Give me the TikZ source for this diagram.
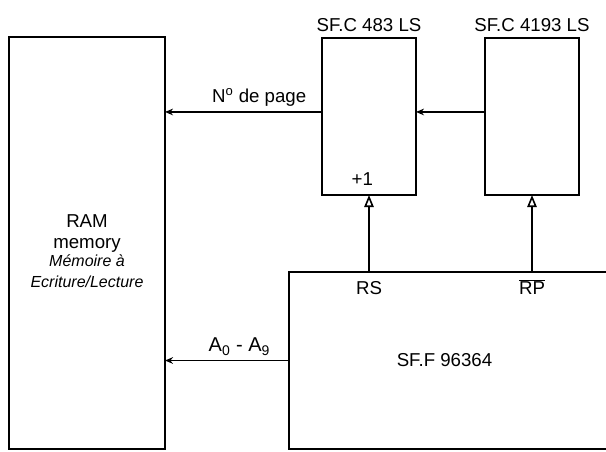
\documentclass[tikz,border=0pt]{standalone}
\usepackage{fontspec}
\setmainfont{Liberation Sans}
\usetikzlibrary{arrows.meta,positioning}

\begin{document}
\begin{tikzpicture}[x=0.75pt,y=-0.75pt,line width=1.2pt,font=\fontsize{14}{16}\selectfont,
  blk/.style={draw,inner sep=0pt,outer sep=0pt,anchor=north west},
  bus/.style={-{Stealth[length=6pt,width=5pt]}},
  clk/.style={-{Triangle[open,length=9pt,width=7pt]}}]
  \useasboundingbox (0,0) rectangle (606,451);
  % blocks
  \node[blk,minimum width=117pt,minimum height=309pt] (ram) at (9,37) {};
  \node[blk,minimum width=70.5pt,minimum height=117.75pt] (cnt) at (322,38) {};
  \node[blk,minimum width=70.5pt,minimum height=117.75pt] (reg) at (485,38) {};
  \node[blk,minimum width=239.25pt,minimum height=132.75pt] (ctl) at (289,272) {};
  \coordinate (pg) at ([yshift=3.4pt]cnt.west);
  \coordinate (rsin) at (ctl.north -| cnt);
  \coordinate (rpin) at (ctl.north -| reg);
  % texts
  \node[above=1pt of cnt] (cntname) {SF.C 483 LS};
  \node[above=1pt of reg] (regname) {SF.C 4193 LS};
  \node[above=3pt of cnt.south,xshift=-5pt] (inc) {+1};
  \node[below=3pt of rsin,text height=10pt] (rs) {RS};
  \node[below=3pt of rpin,text height=10pt] (rp) {$\overline{\hbox{RP}}$};
  \node[xshift=-3pt] (ctlname) at (ctl) {SF.F 96364};
  \node[align=center,yshift=-6pt] (ramname) at (ram) {RAM\\memory\\[-3pt]
    \itshape\fontsize{12}{14}\selectfont M\'emoire \`a\\
    \itshape\fontsize{12}{14}\selectfont Ecriture/Lecture};
  % connections
  \draw[bus] (pg) -- (pg -| ram.east) node[pos=0.4,above] (pglab) {N\textsuperscript{o} de page};
  \draw[bus] (reg.west |- pg) -- (pg -| cnt.east);
  \draw[bus] (ctl.west) -- (ctl.west -| ram.east) node[pos=0.4,above,font=\fontsize{15}{17}\selectfont] (alab) {A\textsubscript{0} - A\textsubscript{9}};
  \draw[clk] (rsin) -- (cnt.south);
  \draw[clk] (rpin) -- (reg.south);
\end{tikzpicture}
\end{document}
